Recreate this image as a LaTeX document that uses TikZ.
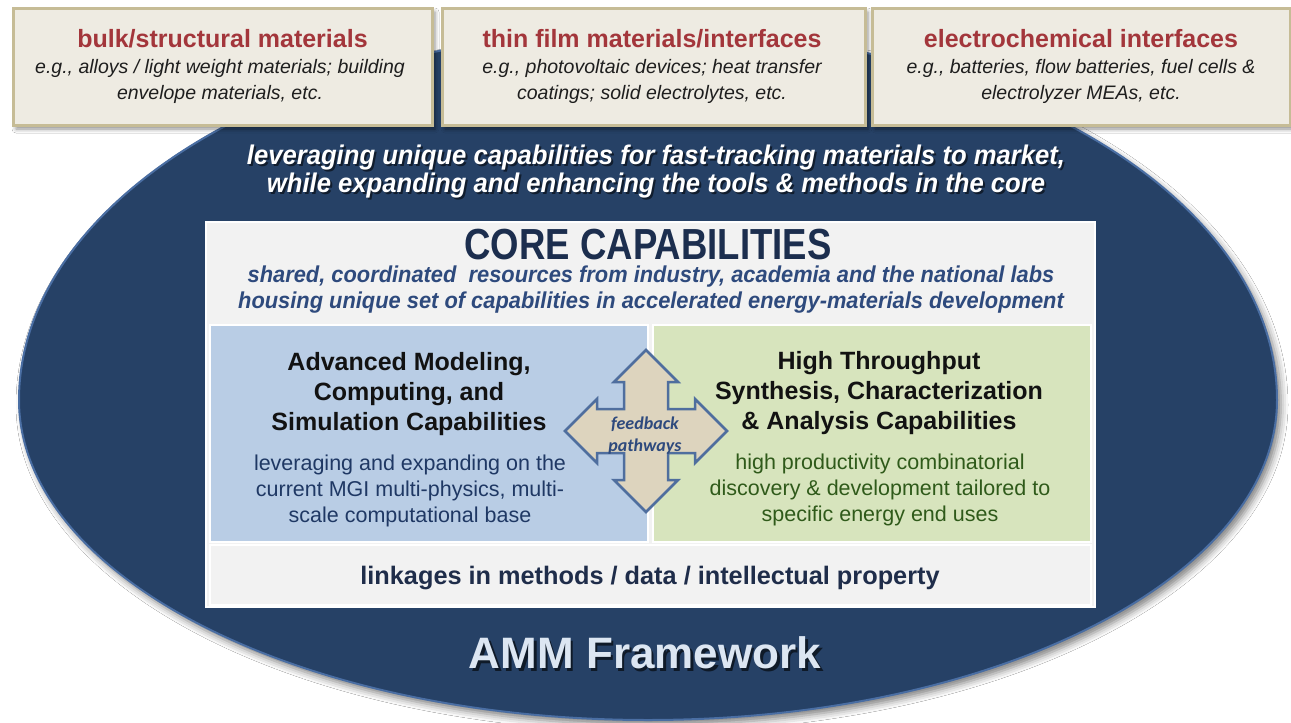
\documentclass[tikz,border=0pt]{standalone}
\usepackage{fontspec}
\setmainfont{Liberation Sans}
\newfontfamily\corefont[FakeStretch=0.84]{Liberation Sans}
\newfontfamily\tagfont[FakeStretch=0.95]{Liberation Sans}
\newfontfamily\calfont{Carlito}
\usetikzlibrary{shadows.blur}
\definecolor{navy}{HTML}{264166}
\definecolor{navyedge}{HTML}{4A6EA3}
\definecolor{beigebox}{HTML}{EEEBE2}
\definecolor{khaki}{HTML}{C6BC96}
\definecolor{darkred}{HTML}{A3363B}
\definecolor{subgrey}{HTML}{1E1E1E}
\definecolor{corefill}{HTML}{F2F2F2}
\definecolor{coretitle}{HTML}{1C2E4E}
\definecolor{coresub}{HTML}{2E4A7D}
\definecolor{bluepanel}{HTML}{B9CDE5}
\definecolor{greenpanel}{HTML}{D7E4BD}
\definecolor{bluetext}{HTML}{1F3864}
\definecolor{greentext}{HTML}{2F5A1A}
\definecolor{arrowfill}{HTML}{DDD4BE}
\definecolor{arrowedge}{HTML}{4F6E9E}
\definecolor{ammtext}{HTML}{DCE6F2}
\definecolor{linktext}{HTML}{1F2D4A}
\begin{document}
\begin{tikzpicture}[x=1pt,y=-1pt,
  topbox/.style={fill=beigebox, draw=khaki, line width=3pt,
    blur shadow={shadow xshift=3pt, shadow yshift=-4pt, shadow blur radius=4pt, shadow opacity=45}},
  toptitle/.style={text=darkred, font=\fontsize{25}{28}\selectfont\bfseries, inner sep=0pt},
  topsub/.style={text=subgrey, font=\fontsize{19.5}{26}\selectfont\itshape, align=center, inner sep=0pt},
  heading/.style={text=black!93, font=\fontsize{25}{30}\selectfont\bfseries, align=center, inner sep=0pt},
  bluesub/.style={text=bluetext, font=\fontsize{21.5}{26}\selectfont, align=center, inner sep=0pt},
  greensub/.style={text=greentext, font=\fontsize{21.5}{26}\selectfont, align=center, inner sep=0pt},
  panelbox/.style={draw=white, line width=2pt},
  shadowtext/.style={text=black, opacity=0.55, inner sep=0pt, align=center},
]
\useasboundingbox (0,0) rectangle (1291,723);
\fill[white] (0,0) rectangle (1291,723);

% big egg-shaped oval (taller above its widest line than below)
\coordinate (ell) at (648,400);
\path[fill=navy, draw=navyedge, line width=2pt,
  blur shadow={shadow xshift=4pt, shadow yshift=-5pt, shadow blur radius=7pt, shadow opacity=50}]
  (19,400) arc[start angle=180, end angle=0, x radius=629pt, y radius=370pt]
  arc[start angle=0, end angle=-180, x radius=629pt, y radius=320pt] -- cycle;

% top boxes
\path[topbox] (13,8) rectangle (432,125);
\path[topbox] (442,8) rectangle (865,125);
\path[topbox] (872,8) rectangle (1290,125);
\node[toptitle] (t1) at (222.5,39) {bulk/structural materials};
\node[topsub] (s1) at (220,81) {e.g., alloys / light weight materials; building\\envelope materials, etc.};
\node[toptitle] (t2) at (652,39) {thin film materials/interfaces};
\node[topsub] (s2) at (652,81) {e.g., photovoltaic devices; heat transfer\\coatings; solid electrolytes, etc.};
\node[toptitle] (t3) at (1081,39) {electrochemical interfaces};
\node[topsub] (s3) at (1081,81) {e.g., batteries, flow batteries, fuel cells \&\\electrolyzer MEAs, etc.};

% tagline
\node[shadowtext, font=\tagfont\fontsize{27}{28}\selectfont\bfseries\itshape] (tagS) at (658,174)
  {leveraging unique capabilities for fast-tracking materials to market,\\while expanding and enhancing the tools \& methods in the core};
\node[text=white, inner sep=0pt, align=center, font=\tagfont\fontsize{27}{28}\selectfont\bfseries\itshape] (tag) at (656,172)
  {leveraging unique capabilities for fast-tracking materials to market,\\while expanding and enhancing the tools \& methods in the core};

% core box
\path[fill=corefill, draw=white, line width=2pt] (206,222) rectangle (1095,607);
\node[text=coretitle, inner sep=0pt, font=\corefont\fontsize{43.5}{46}\selectfont\bfseries] (coreT) at (648,245) {CORE CAPABILITIES};
\node[text=coresub, inner sep=0pt, align=center, font=\tagfont\fontsize{23}{26}\selectfont\bfseries\itshape] (coreS) at (651,290)
  {shared, coordinated\ \ resources from industry, academia and the national labs\\housing unique set of capabilities in accelerated energy-materials development};

% panels
\path[panelbox, fill=bluepanel] (210,325) rectangle (648,542);
\path[panelbox, fill=greenpanel] (653,325) rectangle (1091,542);
\path[panelbox, fill=corefill] (210,545) rectangle (1091,605);

\node[heading] (hL) at (409,394.5) {Advanced Modeling,\\Computing, and\\Simulation Capabilities};
\node[bluesub] (sL) at (410,491) {leveraging and expanding on the\\current MGI multi-physics, multi-\\scale computational base};
\node[heading] (hR) at (879,393.5) {High Throughput\\Synthesis, Characterization\\\& Analysis Capabilities};
\node[greensub] (sR) at (880,490) {high productivity combinatorial\\discovery \& development tailored to\\specific energy end uses};

\node[text=linktext, inner sep=0pt, font=\fontsize{25.3}{28}\selectfont\bfseries] (link) at (650,578)
  {linkages in methods / data / intellectual property};

% feedback quad arrow
\begin{scope}[shift={(646,431)}]
\path[fill=arrowfill, draw=arrowedge, line width=2.5pt, line join=miter]
  (0,-81) -- (32,-49) -- (22,-49) -- (22,-22) -- (49,-22) -- (49,-32) -- (81,0)
  -- (49,32) -- (49,22) -- (22,22) -- (22,49) -- (32,49) -- (0,81)
  -- (-32,49) -- (-22,49) -- (-22,22) -- (-49,22) -- (-49,32) -- (-81,0)
  -- (-49,-32) -- (-49,-22) -- (-22,-22) -- (-22,-49) -- (-32,-49) -- cycle;
\end{scope}
\node[text=coresub, inner sep=0pt, align=center, font=\calfont\fontsize{18}{22}\selectfont\bfseries\itshape] (fb) at (645,436)
  {feedback\\pathways};

% AMM Framework
\node[text=black, opacity=0.6, inner sep=0pt, font=\fontsize{44}{48}\selectfont\bfseries] (ammS) at (647.5,655.5) {AMM Framework};
\node[text=ammtext, inner sep=0pt, font=\fontsize{44}{48}\selectfont\bfseries] (amm) at (645,653) {AMM Framework};
\end{tikzpicture}
\end{document}
